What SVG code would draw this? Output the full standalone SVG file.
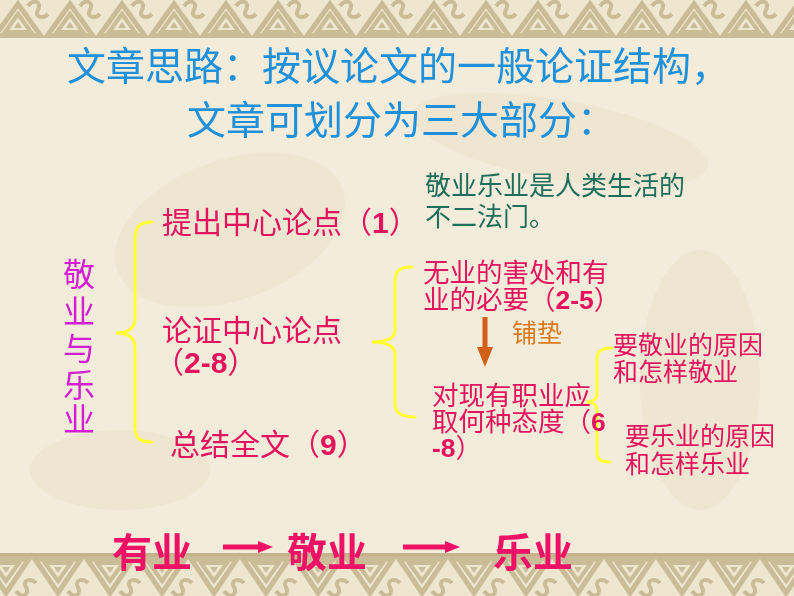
<svg xmlns="http://www.w3.org/2000/svg" width="794" height="596" viewBox="0 0 794 596">
<defs>
<pattern id="bandTop" x="-8" y="0" width="52" height="38" patternUnits="userSpaceOnUse">
<rect width="52" height="38" fill="#efe6d0"/>
<path d="M3,36 L26,4 L49,36 Z" fill="none" stroke="#cbbc98" stroke-width="5"/>
<path d="M13,32 L26,14 L39,32 Z" fill="none" stroke="#cbbc98" stroke-width="4"/>
<path d="M22,28 L26,22 L30,28 Z" fill="#cbbc98"/>
<path d="M36,6 C42,-2 50,2 46,10 C42,16 50,20 56,14" fill="none" stroke="#cbbc98" stroke-width="4"/>
<path d="M-16,6 C-10,-2 -2,2 -6,10 C-10,16 -2,20 4,14" fill="none" stroke="#cbbc98" stroke-width="4"/>
</pattern>
<pattern id="bandBot" x="-20" y="553" width="52" height="43" patternUnits="userSpaceOnUse">
<rect width="52" height="43" fill="#efe6d0"/>
<path d="M0,2 L52,2" stroke="#c4b48e" stroke-width="4"/>
<path d="M3,6 L26,40 L49,6 Z" fill="none" stroke="#cbbc98" stroke-width="5"/>
<path d="M13,10 L26,28 L39,10 Z" fill="none" stroke="#cbbc98" stroke-width="4"/>
<path d="M22,14 L26,20 L30,14 Z" fill="#cbbc98"/>
<path d="M36,38 C42,46 50,42 46,34 C42,28 50,24 56,30" fill="none" stroke="#cbbc98" stroke-width="4"/>
<path d="M-16,38 C-10,46 -2,42 -6,34 C-10,28 -2,24 4,30" fill="none" stroke="#cbbc98" stroke-width="4"/>
</pattern>
<style>
.cjk{font-family:"Noto Sans CJK SC","Liberation Sans",sans-serif;}
.title{fill:#1f90dc;font-size:39px;}
.green{fill:#1e6e5c;font-size:26px;}
.red{fill:#e3135e;}
.mag{fill:#d31fd3;font-size:32px;}
.brace{fill:none;stroke:#ffff33;stroke-width:3;stroke-linecap:round;}
.num{font-family:"Liberation Sans",sans-serif;font-weight:bold;}
.flowline{stroke:#ee1166;stroke-width:5;}
.flowhead{fill:#ee1166;}
</style>
</defs>

<rect width="794" height="596" fill="#f4ecda"/>
<g opacity="0.18" fill="#d9cbaf">
<ellipse cx="230" cy="230" rx="120" ry="70" transform="rotate(-20 230 230)"/>
<ellipse cx="560" cy="140" rx="150" ry="40" transform="rotate(10 560 140)"/>
<ellipse cx="120" cy="470" rx="90" ry="40"/>
<ellipse cx="700" cy="380" rx="60" ry="130"/>
</g>
<rect x="0" y="0" width="794" height="38" fill="url(#bandTop)"/>
<rect x="0" y="553" width="794" height="43" fill="url(#bandBot)"/>

<g id="title">
<text class="cjk title"><tspan x="67" y="80">文章思路：按议论文的一般论证结构，</tspan><tspan x="187" y="134">文章可划分为三大部分：</tspan></text>
</g>

<g id="theme">
<text class="cjk mag" text-anchor="middle"><tspan x="79" y="286">敬</tspan><tspan x="79" y="323">业</tspan><tspan x="79" y="360">与</tspan><tspan x="79" y="397">乐</tspan><tspan x="79" y="431">业</tspan></text>
</g>

<g id="connectors">
<path class="brace" d="M152,222 C138,222 135,228 135,240 L135,318 C135,328 128,333 116,333 C128,333 135,338 135,348 L135,428 C135,438 140,442 152,442"/>
<path class="brace" d="M412,267 C398,267 395,272 395,282 L395,330 C395,338 388,342 372,342 C388,342 395,346 395,354 L395,404 C395,412 400,417 415,417"/>
<path class="brace" d="M612,348 C600,348 597,352 597,360 L597,394 C597,399 593,402 587,402 C593,402 597,405 597,410 L597,454 C597,459 601,462 610,462"/>
<g id="pave-arrow">
<line x1="485" y1="317" x2="485" y2="349" stroke="#d2601a" stroke-width="5"/>
<path d="M477,347 L493,347 L485,367 Z" fill="#d2601a"/>
</g>
<g id="flow-arrow-1">
<line class="flowline" x1="223" y1="547" x2="260" y2="547"/>
<path class="flowhead" d="M258,541 L273,547 L258,553 Z"/>
</g>
<g id="flow-arrow-2">
<line class="flowline" x1="403" y1="547" x2="447" y2="547"/>
<path class="flowhead" d="M445,541 L460,547 L445,553 Z"/>
</g>
</g>

<g id="thesis-note">
<text class="cjk green"><tspan x="425" y="195">敬业乐业是人类生活的</tspan><tspan x="425" y="226">不二法门。</tspan></text>
</g>

<g id="part1">
<text class="cjk red" x="162" y="233" font-size="30">提出中心论点（<tspan class="num">1</tspan>）</text>
</g>
<g id="part2">
<text class="cjk red" font-size="30"><tspan x="162" y="341">论证中心论点</tspan><tspan x="154" y="373">（<tspan class="num">2-8</tspan>）</tspan></text>
</g>
<g id="part3">
<text class="cjk red" x="170" y="455" font-size="30">总结全文（<tspan class="num">9</tspan>）</text>
</g>

<g id="sub1">
<text class="cjk red" font-size="26.5"><tspan x="423" y="282">无业的害处和有</tspan><tspan x="423" y="309">业的必要（<tspan class="num">2-5</tspan>）</tspan></text>
</g>
<g id="pave-label">
<text class="cjk" x="512" y="342" font-size="25" fill="#d9791c">铺垫</text>
</g>
<g id="sub2">
<text class="cjk red" font-size="26.5"><tspan x="432" y="405">对现有职业应</tspan><tspan x="432" y="431">取何种态度（<tspan class="num">6</tspan></tspan><tspan x="432" y="457"><tspan class="num">-8</tspan>）</tspan></text>
</g>
<g id="sub2a">
<text class="cjk red" font-size="25"><tspan x="613" y="354">要敬业的原因</tspan><tspan x="613" y="381">和怎样敬业</tspan></text>
</g>
<g id="sub2b">
<text class="cjk red" font-size="25"><tspan x="625" y="445">要乐业的原因</tspan><tspan x="625" y="473">和怎样乐业</tspan></text>
</g>

<g id="flow">
<text class="cjk" x="112" y="567" font-size="40" font-weight="bold" fill="#ee1166">有业</text>
<text class="cjk" x="287" y="567" font-size="40" font-weight="bold" fill="#ee1166">敬业</text>
<text class="cjk" x="493" y="567" font-size="40" font-weight="bold" fill="#ee1166">乐业</text>
</g>
</svg>
